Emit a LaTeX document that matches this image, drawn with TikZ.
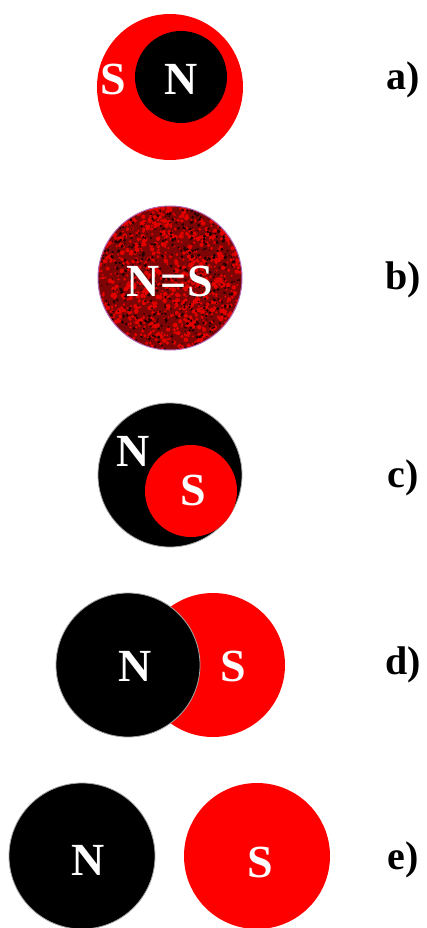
\documentclass[tikz,border=0pt]{standalone}
\usepackage{fontspec}
\setmainfont{LiberationSerif}[Extension=.ttf,UprightFont=*-Regular,BoldFont=*-Bold]
\begin{document}
\begin{tikzpicture}[x=1pt,y=-1pt,
  pole/.style={text=white,font=\fontsize{46}{46}\selectfont\bfseries,inner sep=0pt},
  lab/.style={text=black,font=\fontsize{40}{40}\selectfont\bfseries,inner sep=0pt},
  blackc/.style={fill=black,draw=gray!70,line width=0.8pt}]
\useasboundingbox[fill=white] (0,0) rectangle (426,928);
% a)
\fill[red] (170,87) circle (73);
\fill[black] (181,77) circle (46);
\node[pole] (aS) at (113,79) {S};
\node[pole] (aN) at (181,79) {N};
\node[lab] (la) at (403,80) {a)};
% b)
\definecolor{darkred}{RGB}{125,5,5}
\begin{scope}
\clip (170,278) circle (72);
\fill[darkred] (170,278) circle (72);
\pgfmathsetseed{7}
\foreach \i in {1,...,1100}{
  \pgfmathsetmacro{\px}{170+72*rand}
  \pgfmathsetmacro{\py}{278+72*rand}
  \pgfmathsetmacro{\pr}{1.0+1.4*rnd}
  \fill[red!90!black] (\px,\py) circle (\pr);
}
\foreach \i in {1,...,600}{
  \pgfmathsetmacro{\px}{170+72*rand}
  \pgfmathsetmacro{\py}{278+72*rand}
  \pgfmathsetmacro{\pr}{0.7+1.1*rnd}
  \fill[black!85!red] (\px,\py) circle (\pr);
}
\end{scope}
\draw[violet!60!white,line width=1pt] (170,278) circle (72);
\node[pole] (bNS) at (170,281) {N\kern1pt=\kern1pt S};
\node[lab] (lb) at (403,280) {b)};
% c)
\fill[blackc] (170,475) circle (72);
\fill[red] (191,491) circle (46);
\node[pole] (cN) at (133,451) {N};
\node[pole] (cS) at (193,490) {S};
\node[lab] (lc) at (403,478) {c)};
% d)
\fill[red] (213,665) circle (72);
\filldraw[blackc] (128,665) circle (72);
\node[pole] (dN) at (135,666) {N};
\node[pole] (dS) at (233,666) {S};
\node[lab] (ld) at (403,665) {d)};
% e)
\filldraw[blackc] (82,856) circle (73);
\fill[red] (257,856) circle (73);
\node[pole] (eN) at (88,860) {N};
\node[pole] (eS) at (260,862) {S};
\node[lab] (le) at (403,860) {e)};
\end{tikzpicture}
\end{document}
